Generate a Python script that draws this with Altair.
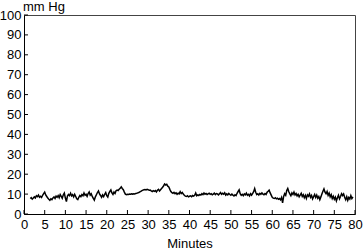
import altair as alt
import pandas as pd

# Pressure readings (mm Hg), sampled every 0.25 min starting at 1.5 min
start_min = 1.5
step_min = 0.25
seg1 = [7.8, 8.2, 7.5, 8.0, 8.6, 8.1, 9.2, 8.7, 9.5, 8.4, 8.9, 8.3, 9.4, 10.2, 11.0,
        9.6, 8.8, 8.0, 7.4, 6.9, 7.6, 7.2, 8.1, 8.6, 7.8, 9.0, 8.4, 9.3, 8.2, 9.8,
        8.9, 7.9, 9.6, 10.5, 8.0]
seg2 = [6.2, 9.0, 9.8, 9.2, 10.4, 9.1, 9.7, 8.6, 9.9, 8.8, 7.6, 7.2, 8.4, 9.3, 8.7,
        9.8, 9.2, 10.6, 9.4, 9.9, 8.9, 10.3, 11.1, 9.5, 10.2, 8.8, 7.9, 7.0, 8.6, 9.7,
        10.8, 11.6, 10.1, 9.3, 8.4, 9.6, 8.7, 9.9, 10.8, 9.2]
seg3 = [8.5, 10.4, 11.3, 12.1, 10.6, 9.8, 11.0, 10.3, 11.7, 12.0, 11.8, 12.4, 12.9,
        13.6, 12.8, 12.2, 11.0, 10.0, 9.7, 9.9, 9.8, 10.0, 9.9, 10.1, 10.0, 10.2,
        10.1, 10.3, 10.4, 10.6, 10.8, 11.1, 11.4, 11.7, 12.0, 12.2, 12.3, 12.1, 12.4, 12.2]
seg4 = [11.9, 12.0, 11.6, 11.3, 11.7, 11.4, 11.8, 11.1, 11.9, 12.4, 11.6, 12.2, 12.8,
        13.4, 14.2, 15.1, 14.6, 14.9, 14.0, 13.6, 12.4, 11.3, 10.7, 10.4, 10.9, 10.2,
        10.6, 9.9, 10.4, 10.1, 11.2, 10.3, 10.8, 10.0, 9.4, 9.0, 8.8, 9.2, 8.6, 8.9]
seg5 = [9.1, 8.7, 9.3, 9.0, 9.4, 10.6, 9.2, 9.6, 9.3, 9.8, 9.5, 10.2, 9.7, 10.5, 9.9,
        10.3, 9.8, 10.1, 10.4, 9.9, 10.2, 9.7, 10.0, 10.5, 9.8, 10.3, 10.1, 9.6, 10.2,
        10.8, 9.9, 10.4, 10.0, 10.7, 9.5, 10.1, 9.6, 10.3, 9.8, 9.4]
seg6 = [10.0, 9.5, 9.1, 9.7, 9.3, 10.4, 11.3, 12.1, 10.2, 9.4, 9.9, 9.2, 10.1, 9.6,
        10.5, 9.4, 9.9, 9.1, 10.2, 9.5, 10.3, 11.2, 12.8, 10.9, 9.8, 10.2, 9.6, 10.4,
        9.9, 10.6, 10.0, 9.7, 10.3, 9.8, 10.9, 11.4, 12.0, 10.6, 9.5, 8.4]
seg7 = [8.0, 7.8, 8.2, 7.6, 7.9, 7.4, 7.8, 7.1, 8.3, 5.6, 8.8, 10.2, 9.4, 11.8, 12.8,
        11.2, 10.1, 9.2, 10.6, 9.8, 11.0, 9.6, 10.3, 9.1, 9.9, 8.6, 9.5, 10.4, 8.8, 9.7,
        8.2, 9.4, 7.8, 9.6, 8.9, 10.1, 8.4, 9.3, 7.6, 8.7]
seg8 = [9.8, 8.3, 9.5, 7.9, 8.8, 7.2, 8.6, 10.1, 11.4, 12.6, 11.0, 10.2, 11.3, 9.4,
        10.5, 8.6, 9.7, 7.8, 8.9, 7.4, 8.5, 6.6, 8.2, 9.4, 7.6, 8.8, 10.2, 9.3, 10.1,
        8.4, 7.2, 8.7, 6.9, 8.3, 7.5, 9.2, 7.8, 8.6]

values = seg1 + seg2 + seg3 + seg4 + seg5 + seg6 + seg7 + seg8
minutes = [start_min + i * step_min for i in range(len(values))]

x_ticks = [0, 5, 10, 15, 20, 25, 30, 35, 40, 45, 50, 55, 60, 65, 70, 75, 80]
y_ticks = [0, 10, 20, 30, 40, 50, 60, 70, 80, 90, 100]
unit_label = ["mm Hg"]

df = pd.DataFrame({"min": minutes, "p": values})
dfx = pd.DataFrame({"t": x_ticks})
dfy = pd.DataFrame({"t": y_ticks})
dfu = pd.DataFrame({"s": unit_label})

W, H = 331, 199
FONT = "Liberation Sans"
FS = 13

xscale = alt.Scale(domain=[0, 80], nice=False, zero=False)
yscale = alt.Scale(domain=[0, 100], nice=False)

xaxis = alt.Axis(values=x_ticks, title="Minutes", tickSize=0, labelPadding=4,
                 grid=False, domainColor="black", labelColor="black",
                 titleColor="black", titleFontWeight="normal", titlePadding=6,
                 labelFlush=False, labelOverlap=False, labelBound=False)
yaxis = alt.Axis(values=y_ticks, title="", tickSize=0, labelPadding=3,
                 grid=False, domainColor="black", labelColor="black",
                 labelFlush=False, labelOverlap=False, labelBound=False)

line = alt.Chart(df).mark_line(color="black", strokeWidth=1.5, clip=True).encode(
    x=alt.X("min:Q", scale=xscale, axis=xaxis, title="Minutes"),
    y=alt.Y("p:Q", scale=yscale, axis=yaxis, title=""),
)

xt = alt.Chart(dfx).mark_rule(color="black", strokeWidth=1).encode(
    x=alt.X("t:Q", scale=xscale, axis=xaxis, title="Minutes"),
    y=alt.value(H),
    y2=alt.value(H - 4),
)
yt = alt.Chart(dfy).mark_rule(color="black", strokeWidth=1).encode(
    y=alt.Y("t:Q", scale=yscale, axis=yaxis, title=""),
    x=alt.value(0),
    x2=alt.value(4),
)

unit = alt.Chart(dfu).mark_text(
    align="left", baseline="middle", font=FONT, fontSize=FS, color="black"
).encode(
    text="s:N",
    x=alt.value(-1),
    y=alt.value(-8),
)

chart = alt.layer(line, xt, yt, unit).properties(
    width=W, height=H,
    autosize=alt.AutoSizeParams(type="none"),
    padding={"left": 24, "top": 15, "right": 8, "bottom": 36},
    background="white",
).configure_view(stroke="#444", strokeWidth=1).configure_axis(
    labelFont=FONT, titleFont=FONT, labelFontSize=FS, titleFontSize=FS, domainWidth=1
)

chart.save("out.html", embed_options={"renderer": "svg", "actions": False})
